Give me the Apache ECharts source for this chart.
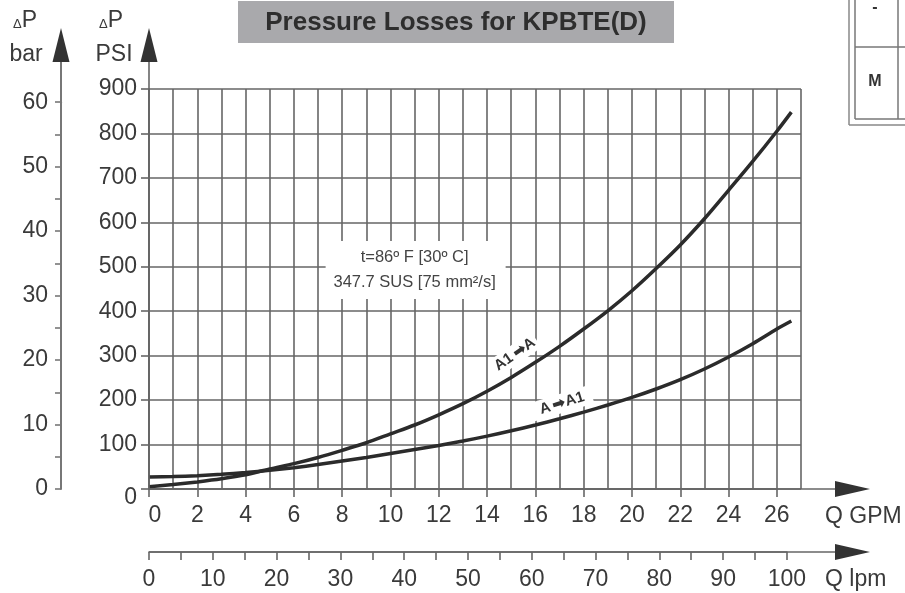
<!DOCTYPE html>
<html>
<head>
<meta charset="utf-8">
<script src="https://cdn.jsdelivr.net/npm/echarts@6/dist/echarts.min.js"></script>
<style>
html,body{margin:0;padding:0;background:#fff;}
#c{width:905px;height:593px;}
</style>
</head>
<body>
<div id="c"></div>
<script>
// ---- data ----
const titleText = 'Pressure Losses for KPBTE(D)';
const flowGpm = [0,1,2,3,4,5,6,7,8,9,10,11,12,13,14,15,16,17,18,19,20,21,22,23,24,25,26,26.6];
const lossA1toA = [5,10,16,23,32,45,57,71,87,104,124,144,167,192,220,251,285,321,360,401,446,496,549,608,672,737,805,848];
const lossAtoA1 = [27,28,30,33,37,42,48,55,63,71,80,89,98,108,119,131,144,158,173,189,206,225,246,270,297,327,360,378];
const gpmMax = 27;
const lpmPerGpm = 3.78541;
const psiPerBar = 14.5038;
const psiMax = 900;
const gpmTickMax = 26, gpmTickStep = 2;
const lpmTickMax = 100, lpmTickStep = 5, lpmLabelStep = 10;
const barTickMax = 60, barTickStep = 5, barLabelStep = 10;
const noteLines = ['t=86º F [30º C]', '347.7 SUS [75 mm²/s]'];
const curveNames = ['A1\u2009➡A', 'A\u2009➡A1'];

const FONT = "'Liberation Sans', Arial, sans-serif";
const TXT = '#3a3a3a';
const GRID = '#666666';
const CURVE = '#2b2b2b';

const G = {left: 149, top: 89, width: 652, height: 400};

const chart = echarts.init(document.getElementById('c'), null, {renderer: 'canvas'});
const zip = (xs, ys) => xs.map((x, i) => [x, ys[i]]);
const labelStyle = {fontSize: 23, color: TXT, fontFamily: FONT};
const tickStyle = {color: GRID, width: 1.6};

const lpmWidth = G.width * lpmTickMax / (gpmMax * lpmPerGpm);
const barHeight = G.height * (barTickMax * psiPerBar) / psiMax;

chart.setOption({
  animation: false,
  backgroundColor: '#fff',
  grid: [
    Object.assign({show: false}, G),
    {show: false, left: G.left, top: G.top, height: G.height, width: G.width * gpmTickMax / gpmMax},
    {show: false, left: G.left, top: G.top, height: G.height, width: lpmWidth},
    {show: false, left: G.left, top: G.top + G.height - barHeight, height: barHeight, width: G.width}
  ],
  xAxis: [
    {gridIndex: 0, type: 'value', min: 0, max: gpmMax, interval: 1,
     axisLine: {show: false, onZero: false}, axisTick: {show: false}, axisLabel: {show: false},
     splitLine: {show: true, lineStyle: {color: GRID, width: 1.6}}},
    {gridIndex: 1, type: 'value', min: 0, max: gpmTickMax, interval: gpmTickStep, position: 'bottom',
     axisLine: {show: true, onZero: false, lineStyle: tickStyle}, splitLine: {show: false},
     axisTick: {show: true, length: 8, lineStyle: tickStyle},
     axisLabel: Object.assign({margin: 15,
       formatter: v => v === 0 ? '{z|0}' : String(v),
       rich: {z: {padding: [0, 0, 0, 12], fontSize: 23, color: TXT, fontFamily: FONT}}}, labelStyle)},
    {gridIndex: 2, type: 'value', min: 0, max: lpmTickMax, interval: lpmTickStep, position: 'bottom', offset: 63,
     axisLine: {show: true, onZero: false, lineStyle: tickStyle}, splitLine: {show: false},
     axisTick: {show: true, length: 8, lineStyle: tickStyle},
     axisLabel: Object.assign({margin: 16, formatter: v => v % lpmLabelStep === 0 ? String(v) : ''}, labelStyle)},
    {gridIndex: 3, type: 'value', min: 0, max: 1, show: false, axisLine: {onZero: false}}
  ],
  yAxis: [
    {gridIndex: 0, type: 'value', min: 0, max: psiMax, interval: 100, position: 'left',
     axisLine: {show: true, onZero: false, lineStyle: tickStyle},
     splitLine: {show: true, lineStyle: {color: GRID, width: 1.6}},
     axisTick: {show: true, length: 8, lineStyle: tickStyle},
     axisLabel: Object.assign({margin: 12,
       formatter: v => v === 0 ? '{z|0}' : String(v),
       rich: {z: {padding: [18, 0, 0, 0], fontSize: 23, color: TXT, fontFamily: FONT}}}, labelStyle)},
    {gridIndex: 1, type: 'value', min: 0, max: 1, show: false, axisLine: {onZero: false}},
    {gridIndex: 2, type: 'value', min: 0, max: 1, show: false, axisLine: {onZero: false}},
    {gridIndex: 3, type: 'value', min: 0, max: barTickMax, interval: barTickStep, position: 'left', offset: 88,
     axisLine: {show: true, onZero: false, lineStyle: {color: '#777', width: 2}}, splitLine: {show: false},
     axisTick: {show: true, length: 6, lineStyle: {color: '#777', width: 1.6}},
     axisLabel: Object.assign({margin: 13, formatter: v => v % barLabelStep === 0 ? String(v) : ''}, labelStyle)}
  ],
  series: [
    {name: 'A1-A', type: 'line', xAxisIndex: 0, yAxisIndex: 0, data: zip(flowGpm, lossA1toA),
     smooth: 0.3, symbol: 'none', lineStyle: {color: CURVE, width: 3.5}, z: 3},
    {name: 'A-A1', type: 'line', xAxisIndex: 0, yAxisIndex: 0, data: zip(flowGpm, lossAtoA1),
     smooth: 0.3, symbol: 'none', lineStyle: {color: CURVE, width: 3.5}, z: 3}
  ]
});

// ---- decorations ----
const px = (g, p) => chart.convertToPixel({xAxisIndex: 0, yAxisIndex: 0}, [g, p]);
const origin = px(0, 0);
const x0 = origin[0], y0 = origin[1];
const barX = x0 - 88;
const lpmY = y0 + 63;

function arrowUp(cx, tipY) {
  return {type: 'polygon', z: 20, shape: {points: [[cx, tipY], [cx - 8.5, tipY + 34], [cx + 8.5, tipY + 34]]}, style: {fill: '#333'}};
}
function arrowRight(tipX, cy) {
  return {type: 'polygon', z: 20, shape: {points: [[tipX, cy], [tipX - 35, cy - 8], [tipX - 35, cy + 8]]}, style: {fill: '#333'}};
}
function line(x1, y1, x2, y2, color, w) {
  return {type: 'line', z: 20, shape: {x1, y1, x2, y2}, style: {stroke: color, lineWidth: w}};
}
function text(str, x, y, opts) {
  return {type: 'text', z: 30, x, y, style: Object.assign({text: str, align: 'center', verticalAlign: 'middle', fill: TXT, font: '23px ' + FONT}, opts || {})};
}
const dP = (x) => ({type: 'text', z: 30, x, y: 21, style: {text: '{d|Δ}{p|P}', align: 'center', verticalAlign: 'middle',
  rich: {d: {fontSize: 13, fill: TXT, fontFamily: FONT, padding: [6, 0, 0, 0]}, p: {fontSize: 23, fill: TXT, fontFamily: FONT}}}});

const g = [];
g.push(line(x0, y0, x0, 60, GRID, 1.6));
g.push(arrowUp(x0, 28));
g.push(line(barX, y0 - 1, barX, 60, '#777', 2));
g.push(arrowUp(barX, 28));
g.push(line(x0, y0, 840, y0, GRID, 1.6));
g.push(arrowRight(870, y0));
g.push(line(x0, lpmY, 840, lpmY, GRID, 1.6));
g.push(arrowRight(870, lpmY));
g.push(dP(25));
g.push(text('bar', 26, 55));
g.push(dP(111));
g.push(text('PSI', 114, 55));
g.push(text('Q GPM', 825, 517, {align: 'left'}));
g.push(text('Q lpm', 825, 580, {align: 'left'}));
// title
g.push({type: 'rect', z: 25, shape: {x: 238, y: 1, width: 436, height: 42}, style: {fill: '#a9a9ac'}});
g.push(text(titleText, 456, 23, {font: 'bold 26px ' + FONT, fill: '#2e2e2e'}));
// top-right table fragment
g.push(line(849, 0, 849, 125, '#888', 1.5));
g.push(line(849, 125, 905, 125, '#888', 1.5));
g.push(line(855, 0, 855, 119, '#777', 1.5));
g.push(line(855, 119, 905, 119, '#777', 1.5));
g.push(line(855, 47, 905, 47, '#777', 1.5));
g.push(line(898, 0, 898, 119, '#777', 1.5));
g.push(text('-', 875, 8, {font: 'bold 16px ' + FONT, fill: '#333'}));
g.push(text('M', 875, 82, {font: 'bold 16px ' + FONT, fill: '#333'}));
// note box
const note = px(11, 493);
g.push({type: 'rect', z: 25, shape: {x: note[0] - 89, y: note[1] - 29, width: 180, height: 58}, style: {fill: '#fff'}});
g.push(text(noteLines[0], note[0], note[1] - 12, {font: '16.5px ' + FONT, fill: '#444'}));
g.push(text(noteLines[1], note[0], note[1] + 13, {font: '16.5px ' + FONT, fill: '#444'}));
// curve labels
const l1 = px(15.15, 303);
g.push({type: 'text', z: 30, x: l1[0], y: l1[1], rotation: 35 * Math.PI / 180,
  style: {text: curveNames[0], align: 'center', verticalAlign: 'middle', font: 'bold 15px ' + FONT, fill: '#333',
    backgroundColor: '#fff', padding: [2, 3]}});
const l2 = px(17.1, 193);
g.push({type: 'text', z: 30, x: l2[0], y: l2[1], rotation: 17 * Math.PI / 180,
  style: {text: curveNames[1], align: 'center', verticalAlign: 'middle', font: 'bold 15px ' + FONT, fill: '#333',
    backgroundColor: '#fff', padding: [2, 8]}});

chart.setOption({graphic: g});
</script>
</body>
</html>
